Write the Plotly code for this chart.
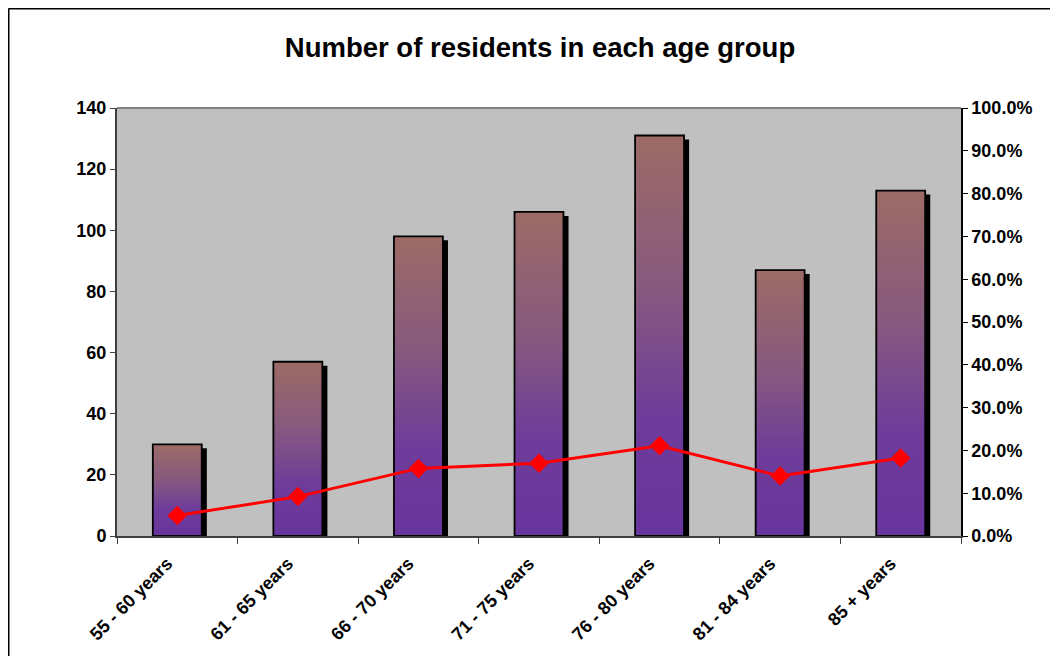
import plotly.graph_objects as go

# ---- data ----
categories = ["55 - 60 years", "61 - 65 years", "66 - 70 years", "71 - 75 years",
              "76 - 80 years", "81 - 84 years", "85 + years"]
residents = [30, 57, 98, 106, 131, 87, 113]
share = [0.048, 0.092, 0.158, 0.170, 0.211, 0.140, 0.182]
left_ticks = [0, 20, 40, 60, 80, 100, 120, 140]
right_ticks = [0.0, 0.1, 0.2, 0.3, 0.4, 0.5, 0.6, 0.7, 0.8, 0.9, 1.0]

# ---- styles ----
FONT = "Liberation Sans, Arial, sans-serif"
BAR_W = 0.406
SH_DX = 0.042   # shadow shift (category units)
SH_DY = 1.3     # shadow drop (value units)
grad = [[0, "#68349E"], [0.3, "#6E3C9A"], [0.62, "#87597E"], [1, "#9C6B66"]]

# plot area in figure pixels (page is offset by 8px body margin)
L, T, R, B = 109, 100, 953, 528
W_PA, H_PA = R - L, B - T

n = len(categories)
idx = list(range(n))
bounds = [i - 0.5 for i in range(n + 1)]

fig = go.Figure()

# shadows
fig.add_trace(go.Bar(
    x=[i + SH_DX for i in idx], y=[v - SH_DY for v in residents], width=BAR_W,
    marker=dict(color="black", line=dict(width=0)), showlegend=False, hoverinfo="skip"))

# gradient bars
for i, v in zip(idx, residents):
    fig.add_trace(go.Scatter(
        x=[i - BAR_W / 2, i - BAR_W / 2, i + BAR_W / 2, i + BAR_W / 2, i - BAR_W / 2],
        y=[0, v, v, 0, 0], mode="lines", fill="toself",
        fillgradient=dict(type="vertical", colorscale=grad),
        line=dict(color="black", width=1.8), showlegend=False, name=categories[i]))

# percentage line
fig.add_trace(go.Scatter(
    x=idx, y=share, yaxis="y2", mode="lines+markers",
    line=dict(color="#FF0000", width=3),
    marker=dict(symbol="diamond", size=15, color="#FF0000"),
    showlegend=False))

tickfont = dict(family=FONT, size=18, color="black", weight="bold")

fig.update_layout(
    width=1058, height=656,
    margin=dict(l=L, r=1058 - R, t=T, b=656 - B),
    paper_bgcolor="white", plot_bgcolor="#C0C0C0",
    barmode="overlay", showlegend=False,
    title=dict(text="<b>Number of residents in each age group</b>",
               font=dict(family=FONT, size=27.5, color="black"),
               x=532 / 1058, xanchor="center", y=1 - 39 / 656, yanchor="middle",
               xref="container", yref="container"),
    xaxis=dict(range=[-0.5, n - 0.5], tickvals=idx, ticktext=categories,
               tickangle=-45, ticks="", tickfont=tickfont,
               ticklabelstandoff=8, ticklabelshift=-10,
               showgrid=False, zeroline=False,
               showline=True, linecolor="#404040", linewidth=2,
               minor=dict(tickvals=bounds, ticks="outside", ticklen=6,
                          tickcolor="#404040", tickwidth=1, showgrid=False)),
    xaxis2=dict(overlaying="x", anchor="y", range=[-0.5, n - 0.5], tickvals=bounds,
                ticks="inside", ticklen=6, tickcolor="#404040",
                showticklabels=False, showgrid=False, zeroline=False, showline=False),
    yaxis=dict(range=[0, 140], tickvals=left_ticks, ticks="outside", ticklen=5,
               tickcolor="#404040", tickfont=tickfont,
               showgrid=False, zeroline=False,
               showline=True, linecolor="#404040", linewidth=2),
    yaxis3=dict(overlaying="y", anchor="x", range=[0, 140], tickvals=left_ticks,
                ticks="inside", ticklen=5, tickcolor="#404040",
                showticklabels=False, showgrid=False, zeroline=False, showline=False),
    yaxis2=dict(overlaying="y", side="right", anchor="x", range=[0, 1],
                tickvals=right_ticks, tickformat=".1%", ticks="outside", ticklen=5,
                tickcolor="black", tickfont=tickfont,
                showgrid=False, zeroline=False,
                showline=True, linecolor="black", linewidth=1.5),
    yaxis4=dict(overlaying="y", side="right", anchor="x", range=[0, 1],
                tickvals=right_ticks, ticks="inside", ticklen=5, tickcolor="black",
                showticklabels=False, showgrid=False, zeroline=False, showline=False),
    shapes=[
        dict(type="line", xref="paper", yref="paper", x0=0, x1=1, y0=1, y1=1,
             line=dict(color="#808080", width=2)),
        dict(type="line", xref="paper", yref="paper",
             x0=(0.5 - L) / W_PA, x1=(1070 - L) / W_PA,
             y0=(B - 0.5) / H_PA, y1=(B - 0.5) / H_PA,
             line=dict(color="black", width=2)),
        dict(type="line", xref="paper", yref="paper",
             x0=(0.5 - L) / W_PA, x1=(0.5 - L) / W_PA,
             y0=(B - 0.5) / H_PA, y1=(B - 700) / H_PA,
             line=dict(color="black", width=2)),
    ],
)

fig.write_html("out.html")
